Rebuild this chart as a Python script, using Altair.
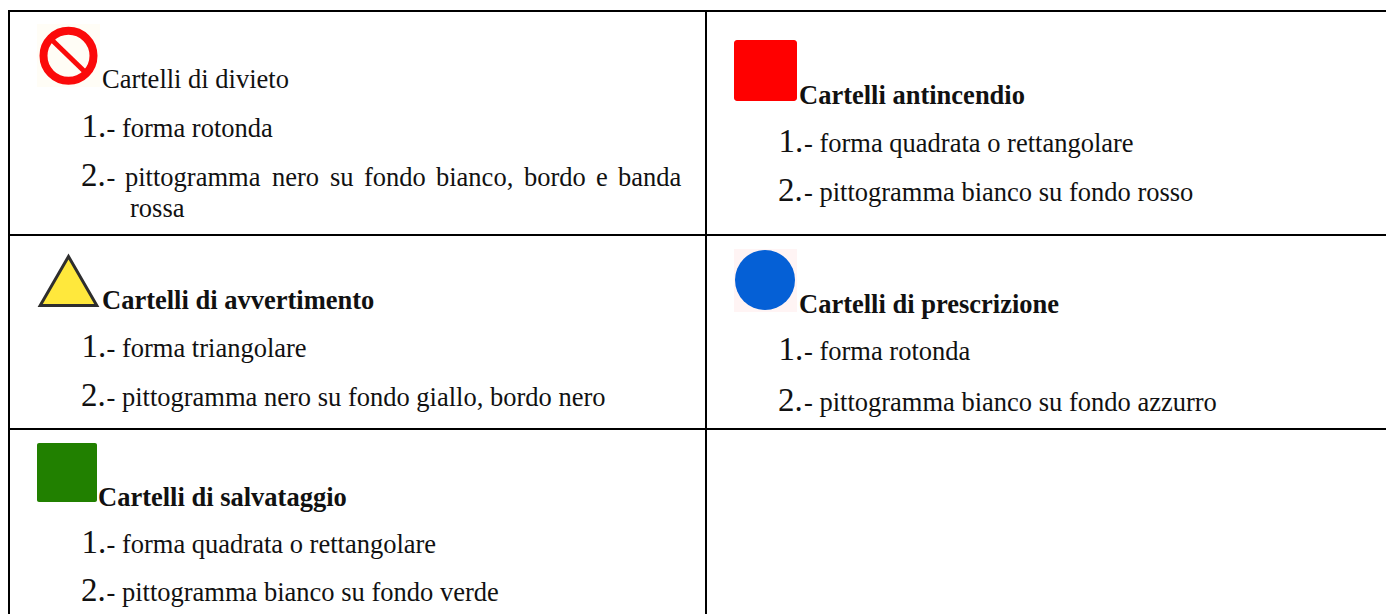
import altair as alt
import pandas as pd

FONT = "Liberation Serif"
INK = "#111111"

# Table grid, in page pixels
h_rules_y = [11, 235, 429]
v_rules_x = [9, 706]

# Plain and bold labels: x, baseline y, text
plain_x = [102, 106.5, 106.5, 125, 272, 330, 364, 436, 524, 596, 618, 130, 106.5, 106.5, 106.5, 106.5, 804, 804, 804, 804]
plain_y = [88, 137, 186, 186, 186, 186, 186, 186, 186, 186, 186, 217, 357, 406, 553, 601, 152, 201, 360, 411]
plain_t = ["Cartelli di divieto", "- forma rotonda", "-", "pittogramma", "nero", "su", "fondo", "bianco,", "bordo", "e", "banda", "rossa",
           "- forma triangolare", "- pittogramma nero su fondo giallo, bordo nero",
           "- forma quadrata o rettangolare", "- pittogramma bianco su fondo verde",
           "- forma quadrata o rettangolare", "- pittogramma bianco su fondo rosso",
           "- forma rotonda", "- pittogramma bianco su fondo azzurro"]

bold_x = [799, 102, 799, 98]
bold_y = [104, 309, 313, 505.5]
bold_t = ["Cartelli antincendio", "Cartelli di avvertimento", "Cartelli di prescrizione", "Cartelli di salvataggio"]

num_x = [81.5, 81, 81.5, 81, 81.5, 81, 778.5, 778, 778.5, 778]
num_y = [137, 186, 357, 406, 553, 601, 152, 201, 360, 411]
num_t = ["1.", "2.", "1.", "2.", "1.", "2.", "1.", "2.", "1.", "2."]

# Sign rectangles: x, x2, y, y2, colour, corner radius
rect_x = [37, 734, 734, 37]
rect_x2 = [100, 797, 797, 97]
rect_y = [24, 249, 40, 443]
rect_y2 = [87, 312, 101, 502]
rect_c = ["#fffdf6", "#fff4f4", "#ff0000", "#218000"]
rect_r = [0, 0, 3, 2]

X = alt.X("x:Q", axis=None, scale=alt.Scale(domain=[8, 1386], nice=False, zero=False))
Y = alt.Y("y:Q", axis=None, scale=alt.Scale(domain=[614, 8], nice=False, zero=False))

def texts(xs, ys, ts, size, weight="normal"):
    df = pd.DataFrame({"x": xs, "y": ys, "t": ts})
    return alt.Chart(df).mark_text(font=FONT, fontSize=size, fontWeight=weight, align="left",
                                   baseline="alphabetic", color=INK).encode(x=X, y=Y, text="t:N")

layers = []
layers.append(alt.Chart(pd.DataFrame({"x": [8] * 3, "x2": [1386] * 3, "y": h_rules_y})).mark_rule(color="#000", strokeWidth=2)
              .encode(x=X, x2="x2:Q", y=Y))
layers.append(alt.Chart(pd.DataFrame({"x": v_rules_x, "y": [10, 10], "y2": [614, 614]})).mark_rule(color="#000", strokeWidth=2)
              .encode(x=X, y=Y, y2="y2:Q"))
for x, x2, y, y2, c, r in zip(rect_x, rect_x2, rect_y, rect_y2, rect_c, rect_r):
    layers.append(alt.Chart(pd.DataFrame({"x": [x], "x2": [x2], "y": [y], "y2": [y2]}))
                  .mark_rect(color=c, cornerRadius=r).encode(x=X, x2="x2:Q", y=Y, y2="y2:Q"))
# prohibition ring and bar
layers.append(alt.Chart(pd.DataFrame({"x": [68.5], "y": [55.8]}))
              .mark_point(shape="circle", size=2500, filled=False, color="#fb0a0a", strokeWidth=8, opacity=1).encode(x=X, y=Y))
layers.append(alt.Chart(pd.DataFrame({"x": [53], "x2": [84], "y": [41], "y2": [71]}))
              .mark_rule(color="#fb0a0a", strokeWidth=5).encode(x=X, x2="x2:Q", y=Y, y2="y2:Q"))
# warning triangle
layers.append(alt.Chart(pd.DataFrame({"x": [68.5], "y": [281]}))
              .mark_point(shape="triangle-up", size=3200, filled=True, fill="#ffe83c", stroke="#2e2e2e", strokeWidth=3, opacity=1).encode(x=X, y=Y))
# mandatory disc
layers.append(alt.Chart(pd.DataFrame({"x": [765], "y": [280]}))
              .mark_point(shape="circle", size=3600, filled=True, fill="#0560d6", opacity=1).encode(x=X, y=Y))

layers.append(texts(plain_x, plain_y, plain_t, 26.5))
layers.append(texts(bold_x, bold_y, bold_t, 26.5, "bold"))
layers.append(texts(num_x, num_y, num_t, 33))

chart = alt.layer(*layers).properties(width=1378, height=606, padding=0, autosize=alt.AutoSizeParams(type="none")).configure_view(stroke=None)
chart.save("out.html", embed_options={"renderer": "svg", "actions": False})
